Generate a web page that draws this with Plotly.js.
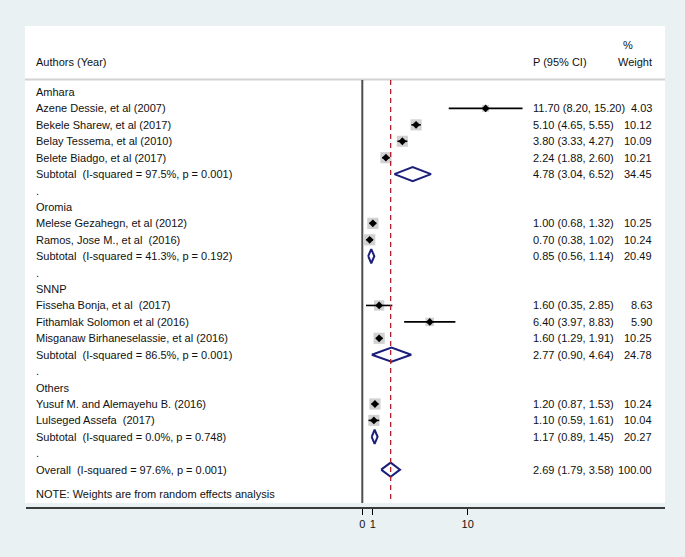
<!DOCTYPE html>
<html>
<head>
<meta charset="utf-8">
<script src="https://cdn.plot.ly/plotly-3.0.1.min.js"></script>
<style>
  html, body { margin: 0; padding: 0; background: #e9f1f3; }
  #forest { width: 685px; height: 557px; }
</style>
</head>
<body>
<div id="forest"></div>
<script>
// region names and the subtotal figures for each one
var groups = ['Amhara', 'Oromia', 'SNNP', 'Others'];
var subEst = [4.78, 0.85, 2.77, 1.17];
var subLo = [3.04, 0.56, 0.90, 0.89];
var subHi = [6.52, 1.14, 4.64, 1.45];
var subWeight = [34.45, 20.49, 24.78, 20.27];
var subI2 = ['97.5', '41.3', '86.5', '0.0'];
var subP = ['0.001', '0.192', '0.001', '0.748'];

// individual studies
var studyNames = [
    'Azene Dessie, et al (2007)',
    'Bekele Sharew, et al (2017)',
    'Belay Tessema, et al (2010)',
    'Belete Biadgo, et al (2017)',
    'Melese Gezahegn, et al (2012)',
    'Ramos, Jose M., et al  (2016)',
    'Fisseha Bonja, et al  (2017)',
    'Fithamlak Solomon et al (2016)',
    'Misganaw Birhaneselassie, et al (2016)',
    'Yusuf M. and Alemayehu B. (2016)',
    'Lulseged Assefa  (2017)'
];
var studyGroup = [0, 0, 0, 0, 1, 1, 2, 2, 2, 3, 3];
var studyEst = [11.70, 5.10, 3.80, 2.24, 1.00, 0.70, 1.60, 6.40, 1.60, 1.20, 1.10];
var studyLo = [8.20, 4.65, 3.33, 1.88, 0.68, 0.38, 0.35, 3.97, 1.29, 0.87, 0.59];
var studyHi = [15.20, 5.55, 4.27, 2.60, 1.32, 1.02, 2.85, 8.83, 1.91, 1.53, 1.61];
var studyWeight = [4.03, 10.12, 10.09, 10.21, 10.25, 10.24, 8.63, 5.90, 10.25, 10.24, 10.04];

// pooled result
var overallEst = 2.69;
var overallLo = 1.79;
var overallHi = 3.58;
var overallI2 = '97.6';
var overallP = '0.001';

var tickVals = [0, 1, 10];
var tickText = ['0', '1', '10'];

var W = 685, H = 557, plotH = 508;
var FONT = 'Liberation Sans, Arial, sans-serif';
var navy = '#1b1f7a';

function px2paperX(px) { return px / W; }
function px2paperY(px) { return 1 - px / plotH; }
function ci(e, l, h) { return e.toFixed(2) + ' (' + l.toFixed(2) + ', ' + h.toFixed(2) + ')'; }

var annotations = [];
function addText(txt, xpx, row, anchor) {
    annotations.push({
        text: txt, x: px2paperX(xpx), xref: 'paper', y: row, yref: 'y',
        xanchor: anchor || 'left', yanchor: 'middle', showarrow: false,
        font: { family: FONT, size: 11, color: '#111' }
    });
}

// walk through the groups and give every line its row
var sx = [], sy = [], sw = [], sPlus = [], sMinus = [];
var dx = [], dy = [];
var h = 0.43;
var row = 0;
groups.forEach(function (g, gi) {
    addText(g, 34, row);
    row++;
    for (var i = 0; i < studyNames.length; i++) {
        if (studyGroup[i] !== gi) continue;
        sx.push(studyEst[i]);
        sy.push(row);
        sw.push(3.5 * Math.sqrt(studyWeight[i]));
        sPlus.push(studyHi[i] - studyEst[i]);
        sMinus.push(studyEst[i] - studyLo[i]);
        addText(studyNames[i], 34, row);
        addText(ci(studyEst[i], studyLo[i], studyHi[i]), 531, row);
        addText(studyWeight[i].toFixed(2), 654, row, 'right');
        row++;
    }
    addText('Subtotal  (I-squared = ' + subI2[gi] + '%, p = ' + subP[gi] + ')', 34, row);
    addText(ci(subEst[gi], subLo[gi], subHi[gi]), 531, row);
    addText(subWeight[gi].toFixed(2), 654, row, 'right');
    dx.push(subLo[gi], subEst[gi], subHi[gi], subEst[gi], subLo[gi], null);
    dy.push(row, row - h, row, row + h, row, null);
    row++;
    addText('.', 34, row);
    row++;
});
addText('Overall  (I-squared = ' + overallI2 + '%, p = ' + overallP + ')', 34, row);
addText(ci(overallEst, overallLo, overallHi), 531, row);
addText('100.00', 654, row, 'right');
dx.push(overallLo, overallEst, overallHi, overallEst, overallLo);
dy.push(row, row - h, row, row + h, row);
addText('NOTE: Weights are from random effects analysis', 34, row + 1.5);

// headers
var rowPx = 16.42, row0Px = 92;
function px2row(px) { return (px - row0Px) / rowPx; }
addText('Authors (Year)', 34, px2row(62));
addText('P (95% CI)', 531, px2row(62));
addText('Weight', 654, px2row(62), 'right');
addText('%', 621, px2row(45));

var traces = [
    {
        x: sx, y: sy, type: 'scatter', mode: 'markers', hoverinfo: 'skip',
        marker: { symbol: 'square', size: sw, color: '#bdbdbd', line: { width: 0 } }
    },
    {
        x: sx, y: sy, type: 'scatter', mode: 'markers', hoverinfo: 'skip',
        marker: { symbol: 'diamond', size: 6, color: '#000' },
        error_x: { type: 'data', symmetric: false, array: sPlus, arrayminus: sMinus,
                   width: 0, thickness: 1.6, color: '#000' }
    },
    {
        x: dx, y: dy, type: 'scatter', mode: 'lines', hoverinfo: 'skip',
        line: { color: navy, width: 2 }, connectgaps: false
    }
];

var xPerUnit = 10.54, zeroPx = 362.3;
var lineTop = px2row(80), lineBot = px2row(503);

var layout = {
    width: W, height: H,
    margin: { l: 0, r: 0, t: 0, b: H - plotH },
    paper_bgcolor: '#e9f1f3',
    plot_bgcolor: 'rgba(0,0,0,0)',
    showlegend: false,
    xaxis: {
        domain: [0, 1],
        range: [-zeroPx / xPerUnit, (W - zeroPx) / xPerUnit],
        tickvals: tickVals, ticktext: tickText,
        ticks: 'outside', ticklen: 6, tickcolor: '#000', tickwidth: 1,
        showgrid: false, zeroline: false, showline: false,
        tickfont: { family: FONT, size: 11, color: '#111' }
    },
    yaxis: {
        range: [px2row(plotH), px2row(0)],
        visible: false, showgrid: false, zeroline: false
    },
    annotations: annotations,
    shapes: [
        // white plot region
        { type: 'rect', xref: 'paper', yref: 'paper', layer: 'below',
          x0: px2paperX(25), x1: px2paperX(665), y0: px2paperY(503), y1: px2paperY(26),
          fillcolor: '#fff', line: { width: 0 } },
        // header rule
        { type: 'line', xref: 'paper', yref: 'paper',
          x0: px2paperX(25), x1: px2paperX(665), y0: px2paperY(79.5), y1: px2paperY(79.5),
          line: { color: '#d2d2d2', width: 2 } },
        // no-effect line
        { type: 'line', xref: 'x', yref: 'y', x0: 0, x1: 0, y0: lineTop, y1: lineBot,
          line: { color: '#4d4d4d', width: 2 } },
        // overall estimate line
        { type: 'line', xref: 'x', yref: 'y', x0: overallEst, x1: overallEst, y0: lineTop, y1: lineBot,
          line: { color: '#b2202a', width: 1.3, dash: '5px,4px' } },
        // x axis line
        { type: 'line', xref: 'paper', yref: 'paper',
          x0: px2paperX(26), x1: px2paperX(665), y0: 0, y1: 0,
          line: { color: '#000', width: 1.3 } }
    ]
};

Plotly.newPlot('forest', traces, layout, { displayModeBar: false, staticPlot: true });
</script>
</body>
</html>
